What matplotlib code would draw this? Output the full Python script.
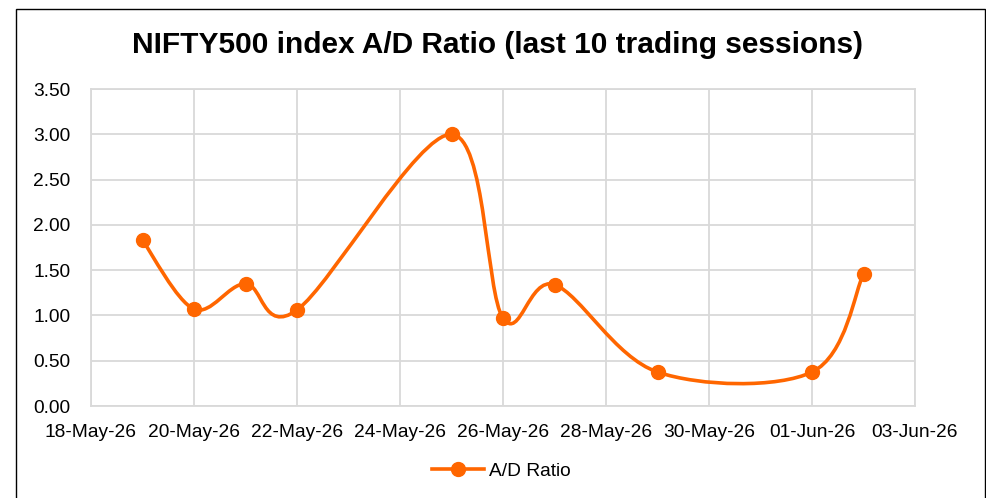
import datetime as dt
import matplotlib
matplotlib.use("Agg")
import matplotlib.pyplot as plt
import matplotlib.dates as mdates
from matplotlib.path import Path
from matplotlib.patches import PathPatch, Rectangle
from matplotlib.lines import Line2D
import numpy as np

# data
dates = ["2026-05-19", "2026-05-20", "2026-05-21", "2026-05-22", "2026-05-25",
         "2026-05-26", "2026-05-27", "2026-05-29", "2026-06-01", "2026-06-02"]
ad_ratio = [1.83, 1.07, 1.35, 1.06, 3.00, 0.97, 1.34, 0.375, 0.375, 1.46]
y_ticks = [0.0, 0.5, 1.0, 1.5, 2.0, 2.5, 3.0, 3.5]

ORANGE = "#FF6600"
GRID = "#D9D9D9"

plt.rcParams["font.family"] = ["Liberation Sans", "DejaVu Sans"]

x = mdates.date2num([dt.datetime.strptime(d, "%Y-%m-%d") for d in dates])
y = np.array(ad_ratio)

fig = plt.figure(figsize=(9.87, 4.98), dpi=100)
ax = fig.add_axes([91 / 987, 1 - 406 / 498, (915 - 91) / 987, (406 - 89) / 498])

# Excel style smoothed line: catmull-rom as cubic beziers
pts = np.column_stack([x, y])
verts = [pts[0]]
codes = [Path.MOVETO]
n = len(pts)
for i in range(n - 1):
    p0 = pts[i - 1] if i > 0 else pts[i]
    p1 = pts[i]
    p2 = pts[i + 1]
    p3 = pts[i + 2] if i + 2 < n else pts[i + 1]
    c1 = p1 + (p2 - p0) / 6
    c2 = p2 - (p3 - p1) / 6
    verts += [c1, c2, p2]
    codes += [Path.CURVE4] * 3
ax.add_patch(PathPatch(Path(verts, codes), facecolor="none", edgecolor=ORANGE,
                       lw=2.6, capstyle="round", joinstyle="round", zorder=3))
ax.plot(x, y, linestyle="none", marker="o", ms=10, color=ORANGE, zorder=4)

ax.set_xlim(mdates.date2num(dt.datetime(2026, 5, 18)), mdates.date2num(dt.datetime(2026, 6, 3)))
ax.set_ylim(0, 3.5)
ax.set_yticks(y_ticks)
ax.set_yticklabels([f"{v:.2f}" for v in y_ticks])
ax.set_xticks(mdates.date2num([dt.datetime(2026, 5, 18) + dt.timedelta(days=2 * k) for k in range(9)]))
ax.xaxis.set_major_formatter(mdates.DateFormatter("%d-%b-%y"))

ax.grid(True, color=GRID, lw=1.3)
ax.set_axisbelow(True)
for s in ax.spines.values():
    s.set_color(GRID)
    s.set_linewidth(1.3)
ax.tick_params(length=0, labelsize=13.8, colors="black")
ax.tick_params(axis="y", pad=15)
ax.tick_params(axis="x", pad=13)

fig.text(0.504, 1 - 53 / 498, "NIFTY500 index A/D Ratio (last 10 trading sessions)",
         ha="center", va="baseline", fontsize=21.5, fontweight="bold")

handle = Line2D([], [], color=ORANGE, lw=2.6, marker="o", ms=10)
fig.legend([handle], ["A/D Ratio"], loc="center", bbox_to_anchor=(0.508, 1 - 471 / 498),
           frameon=False, fontsize=13.8, handlelength=2.7, handletextpad=0.3)

fig.add_artist(Rectangle((16 / 987, -0.05), (985 - 16) / 987, 1.05 - 9 / 498,
                         transform=fig.transFigure, fill=False, edgecolor="black", lw=1))

fig.savefig("out.png", dpi=100)
